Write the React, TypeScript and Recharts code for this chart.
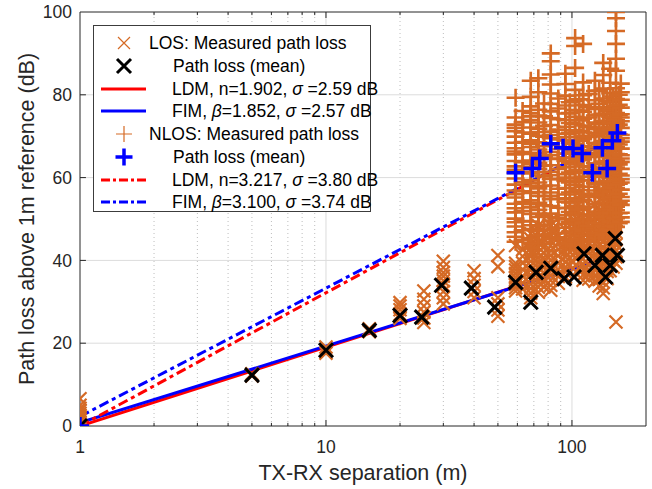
import { ComposedChart, Scatter, Line, XAxis, YAxis, ReferenceLine, Legend } from "recharts";

// Distances (m) and measured path loss (dB) per measurement position
const losDist = [1, 5, 10, 15, 20, 25, 30, 40, 50, 59, 63, 68, 73, 77, 82, 88, 94, 98, 103, 107, 111, 117, 124, 129, 134, 139, 143, 147, 151];
const losMeasured: number[][] = [
  [0.2, 0.8, 1.4, 2.0, 2.6, 3.1, 3.7, 4.3, 5.0, 6.6],
  [12.1, 12.6],
  [17.6, 18.4, 19.1],
  [22.8, 23.5],
  [26.0, 27.0, 28.1, 29.0, 29.8],
  [25.0, 26.1, 27.5, 29.0, 30.6, 32.6],
  [29.5, 31.0, 32.5, 34.0, 35.1, 36.2, 37.1, 38.3, 39.8],
  [31.0, 32.5, 34.0, 35.6, 37.5],
  [26.5, 28.0, 29.5, 31.0, 38.5, 41.2],
  [32.6, 33.4, 34.2, 35.0, 35.9, 36.8, 37.7, 38.5, 39.3, 43.6],
  [33.1, 34.6, 36.2, 37.8, 39.4, 41.0, 42.6],
  [31.0, 32.1, 33.2, 34.3, 35.4, 36.5, 37.6, 38.7, 39.8, 40.9, 42.0, 42.9, 44.0, 45.2, 46.5],
  [32.3, 33.5, 34.7, 35.9, 37.1, 38.3, 39.5, 40.7, 41.9, 43.1, 44.3, 45.5, 46.7, 48.4],
  [33.6, 35.2, 36.9, 38.5, 40.1, 41.8, 43.4, 45.1, 46.8],
  [32.8, 34.0, 35.2, 36.4, 37.6, 38.8, 40.0, 41.2, 42.4, 43.6, 44.8, 46.0, 47.2, 48.4, 49.6],
  [34.5, 36.1, 37.8, 39.4, 41.1, 42.7, 44.4, 46.0],
  [36.0, 37.2, 38.4, 39.6, 40.8, 42.0, 43.2, 44.0, 47.5],
  [37.2, 38.8, 40.5, 42.1, 43.8, 45.4],
  [40.7, 41.9, 43.1, 44.3, 45.5, 46.7, 47.9, 49.6],
  [38.0, 39.7, 41.3, 43.0, 44.6, 46.3, 47.9, 49.5],
  [35.2, 36.5, 37.8, 39.1, 40.4, 41.7, 43.0, 44.3, 45.6, 46.9, 48.2, 49.4, 50.4, 54.8],
  [35.5, 37.1, 38.8, 40.4, 42.1, 43.7, 45.4, 47.0, 48.6, 50.2],
  [35.0, 36.3, 37.6, 38.9, 40.2, 41.5, 42.8, 44.1, 45.4, 46.7, 48.0, 49.3, 50.6, 53.5],
  [33.8, 35.4, 37.1, 38.7, 40.4, 42.0, 43.7, 45.3, 47.0, 48.6, 50.3, 52.0],
  [32.0, 33.4, 34.8, 36.2, 37.6, 39.0, 40.4, 41.8, 43.2, 44.6, 46.0, 47.4, 48.8, 50.2, 51.5, 52.8, 56.5],
  [35.6, 37.3, 38.9, 40.6, 42.2, 43.9, 45.5, 47.2, 48.8, 50.5, 52.1],
  [37.5, 39.0, 40.5, 42.0, 43.5, 45.0, 46.5, 48.0, 49.5, 51.0, 52.5, 54.0],
  [38.4, 40.0, 41.7, 43.3, 45.0, 46.6, 48.3, 49.9, 51.6, 53.2],
  [25.1, 39.3, 40.8, 42.3, 43.8, 45.3, 46.8, 48.3, 49.8, 51.3, 52.8, 54.5, 57.0],
];

const nlosDist = [59, 63, 68, 73, 77, 82, 88, 94, 98, 103, 107, 111, 117, 124, 129, 134, 139, 143, 147, 151, 155, 158];
const nlosMeasured: number[][] = [
  [44.5, 45.7, 46.8, 48.2, 49.2, 50.1, 51.6, 52.6, 53.7, 55.2, 56.0, 56.9, 58.3, 59.8, 61.1, 61.9, 62.7, 64.0, 65.6, 66.3, 67.1, 68.4, 69.9, 71.2, 72.0, 72.8, 74.5, 79.3],
  [45.0, 47.3, 49.5, 51.9, 54.1, 56.7, 58.9, 61.4, 63.7, 66.2, 68.6, 70.9, 73.4, 76.1],
  [42.9, 44.2, 45.3, 47.6, 48.5, 49.4, 51.2, 52.8, 53.6, 54.5, 56.3, 57.9, 58.6, 59.4, 61.0, 62.6, 63.3, 64.1, 65.7, 67.4, 68.2, 69.0, 70.6, 72.1, 73.9, 74.8, 75.6, 77.2, 79.5, 83.4],
  [44.1, 46.0, 47.1, 48.3, 50.5, 51.3, 52.2, 53.9, 55.6, 56.5, 57.4, 58.8, 60.5, 61.3, 62.1, 63.6, 65.3, 66.0, 66.8, 68.5, 70.1, 71.0, 71.8, 73.3, 75.0, 76.4, 80.6, 84.0],
  [46.1, 48.6, 50.8, 53.3, 55.5, 58.0, 60.3, 62.9, 65.1, 67.6, 69.9, 72.5, 74.8, 77.9],
  [45.2, 46.3, 47.4, 49.6, 50.5, 51.3, 53.1, 54.8, 55.6, 56.4, 58.1, 59.7, 60.6, 61.4, 63.0, 64.6, 65.4, 66.2, 67.9, 69.5, 70.3, 71.1, 72.7, 74.4, 76.0, 77.8, 80.3, 82.5, 84.9, 88.1, 90.0],
  [45.6, 47.9, 50.3, 52.7, 54.9, 57.3, 59.6, 62.1, 64.5, 66.9, 69.2, 71.6, 74.1, 76.7, 79.1],
  [44.0, 45.2, 46.5, 48.8, 49.9, 50.9, 52.6, 54.2, 55.0, 55.9, 57.5, 59.2, 60.0, 60.8, 62.5, 64.0, 64.9, 65.8, 67.3, 69.0, 69.8, 70.6, 72.3, 73.9, 75.5, 77.4, 79.8, 82.6, 85.1],
  [44.3, 46.9, 49.2, 51.7, 54.0, 56.4, 58.8, 61.2, 63.6, 65.9, 68.4, 70.8, 73.2, 75.6, 78.2],
  [43.4, 44.6, 45.8, 47.9, 48.8, 49.7, 51.5, 53.2, 54.0, 54.9, 56.6, 58.2, 59.0, 59.9, 61.5, 63.2, 64.0, 64.8, 66.5, 68.1, 69.0, 69.8, 71.4, 73.0, 74.7, 76.3, 78.6, 81.2, 86.5, 91.8, 93.7],
  [45.1, 47.5, 49.8, 52.2, 54.6, 57.0, 59.3, 61.8, 64.2, 66.6, 68.9, 71.3, 73.8, 76.2, 78.9],
  [44.8, 45.9, 47.0, 49.1, 50.0, 51.0, 52.7, 54.5, 55.3, 56.1, 57.8, 59.4, 60.2, 61.1, 62.7, 64.4, 65.2, 66.0, 67.6, 69.3, 70.1, 70.9, 72.6, 74.2, 75.9, 77.5, 79.9, 83.0, 92.3],
  [46.0, 48.3, 50.7, 53.0, 55.5, 57.8, 60.2, 62.6, 65.0, 67.4, 69.8, 72.2, 74.5, 77.0, 80.2],
  [45.5, 46.6, 47.7, 49.9, 50.8, 51.8, 53.6, 55.3, 56.1, 56.9, 58.6, 60.2, 61.0, 61.9, 63.5, 65.1, 66.0, 66.8, 68.4, 70.0, 70.8, 71.7, 73.3, 75.0, 76.6, 78.7, 80.9, 83.4],
  [46.7, 49.0, 51.3, 53.7, 56.1, 58.4, 60.9, 63.3, 65.6, 68.0, 70.5, 72.9, 75.2, 77.8, 81.0],
  [46.2, 47.3, 48.4, 50.4, 51.4, 52.3, 54.0, 55.7, 56.5, 57.3, 59.0, 60.6, 61.4, 62.3, 63.9, 65.5, 66.3, 67.2, 68.8, 70.4, 71.2, 72.1, 73.7, 75.4, 77.0, 79.1, 81.5, 84.8, 87.7],
  [47.4, 49.8, 52.1, 54.5, 56.8, 59.2, 61.6, 64.0, 66.4, 68.8, 71.1, 73.6, 76.0, 78.5],
  [47.0, 48.2, 49.3, 51.4, 52.3, 53.2, 55.0, 56.6, 57.5, 58.3, 60.0, 61.6, 62.4, 63.2, 64.9, 66.5, 67.3, 68.1, 69.8, 71.4, 72.2, 73.1, 74.7, 76.3, 78.2, 80.4, 82.9, 86.3],
  [48.3, 50.6, 53.0, 55.3, 57.7, 60.1, 62.4, 64.8, 67.2, 69.6, 72.0, 74.3, 76.8, 79.6],
  [48.1, 49.1, 50.2, 52.1, 53.0, 54.0, 55.8, 57.5, 58.3, 59.1, 60.8, 62.4, 63.2, 64.1, 65.7, 67.3, 68.1, 69.0, 70.6, 72.3, 73.1, 73.9, 75.6, 77.2, 79.0, 81.6, 85.8, 88.7, 92.3, 95.4, 98.5, 100.0],
  [49.0, 51.4, 53.8, 56.1, 58.5, 60.9, 63.2, 65.6, 68.0, 70.4, 72.8, 75.1, 77.6, 80.0],
  [49.3, 50.4, 51.5, 53.4, 54.4, 55.3, 57.1, 58.8, 59.6, 60.5, 62.1, 63.8, 64.6, 65.4, 67.0, 68.7, 69.5, 70.3, 72.0, 73.6, 74.5, 75.3, 76.9, 78.8, 80.6, 82.7],
];

// Mean path loss at each position
const losMeanDist = [1, 5, 10, 15, 20, 24.5, 29.5, 39, 48.5, 59, 68, 71.5, 82, 93, 102, 112, 124, 133, 137, 143, 150, 153];
const losMeanPL = [0, 12.3, 18.3, 23.1, 26.7, 26.3, 34.0, 33.3, 28.7, 34.7, 29.9, 37.1, 38.1, 35.6, 36.0, 41.6, 38.8, 41.2, 36.0, 38.8, 45.3, 41.2];
const nlosMeanDist = [1, 59, 69, 74, 82, 92, 101, 110, 121, 133, 139, 146, 153];
const nlosMeanPL = [0, 61.2, 62.2, 64.6, 68.2, 67.2, 67.0, 65.8, 61.2, 67.2, 62.2, 68.9, 70.8];

// Fitted model parameters
const LOS_LDM_N = 1.902;
const LOS_FIM_BETA = 1.852;
const LOS_FIM_ALPHA = 0.8;
const NLOS_LDM_N = 3.217;
const NLOS_FIM_BETA = 3.1;
const NLOS_FIM_ALPHA = 2.3;
const modelDist = [1, 158];

const X_TICKS = [1, 10, 100];
const X_MAJOR_GRID = [10, 100];
const X_MINOR_GRID = [2, 3, 4, 5, 6, 7, 8, 9, 20, 30, 40, 50, 60, 70, 80, 90];
const Y_TICKS = [0, 20, 40, 60, 80, 100];
const Y_GRID = [20, 40, 60, 80];

const ORANGE = "#D56A25";
const AXIS = "#262626";
const FONT = "'Liberation Sans', Arial, Helvetica, sans-serif";

const toPoints = (dist: number[], vals: number[][]) =>
  dist.flatMap((d, i) => vals[i].map((v) => ({ x: d, y: v })));
const zipPoints = (dist: number[], vals: number[]) => dist.map((d, i) => ({ x: d, y: vals[i] }));

const losPoints = toPoints(losDist, losMeasured);
const nlosPoints = toPoints(nlosDist, nlosMeasured);
const losMean = zipPoints(losMeanDist, losMeanPL);
const nlosMean = zipPoints(nlosMeanDist, nlosMeanPL);
const model = (a: number, n: number) => modelDist.map((d) => ({ x: d, y: a + 10 * n * Math.log10(d) }));

const xShape = (half: number, color: string, width: number) => (p: any) => {
  const { cx, cy } = p;
  if (cx == null || cy == null) return <g />;
  return (
    <path
      d={`M${cx - half},${cy - half}L${cx + half},${cy + half}M${cx - half},${cy + half}L${cx + half},${cy - half}`}
      stroke={color}
      strokeWidth={width}
      fill="none"
    />
  );
};

const plusShape = (half: number, color: string, width: number) => (p: any) => {
  const { cx, cy } = p;
  if (cx == null || cy == null) return <g />;
  return (
    <path
      d={`M${cx - half},${cy}L${cx + half},${cy}M${cx},${cy - half}L${cx},${cy + half}`}
      stroke={color}
      strokeWidth={width}
      fill="none"
    />
  );
};

const DASH_DOT = "10 4 4 4";

type Row = { symbol: JSX.Element; text: JSX.Element; left: number };

const sig = <span style={{ fontStyle: "italic" }}>σ</span>;
const beta = <span style={{ fontStyle: "italic" }}>β</span>;

const lineSym = (color: string, dash?: string) => (
  <line x1={7} y1={11} x2={52} y2={11} stroke={color} strokeWidth={3} strokeDasharray={dash} />
);

const legendRows: Row[] = [
  {
    symbol: <path d="M24,5L36,17M24,17L36,5" stroke={ORANGE} strokeWidth={1.2} />,
    text: <>LOS: Measured path loss</>,
    left: 55,
  },
  {
    symbol: <path d="M23,4L37,18M23,18L37,4" stroke="#000" strokeWidth={3} />,
    text: <>Path loss (mean)</>,
    left: 79,
  },
  { symbol: lineSym("#FF0000"), text: <>LDM, n=1.902, {sig} =2.59 dB</>, left: 78 },
  { symbol: lineSym("#0000FF"), text: <>FIM, {beta}=1.852, {sig} =2.57 dB</>, left: 78 },
  {
    symbol: <path d="M22,11L38,11M30,3L30,19" stroke={ORANGE} strokeWidth={1.2} />,
    text: <>NLOS: Measured path loss</>,
    left: 55,
  },
  {
    symbol: <path d="M21.5,11L38.5,11M30,2.5L30,19.5" stroke="#0000FF" strokeWidth={3.5} />,
    text: <>Path loss (mean)</>,
    left: 79,
  },
  { symbol: lineSym("#FF0000", "9 3 3 3"), text: <>LDM, n=3.217, {sig} =3.80 dB</>, left: 78 },
  { symbol: lineSym("#0000FF", "9 3 3 3"), text: <>FIM, {beta}=3.100, {sig} =3.74 dB</>, left: 78 },
];
const ROW_CENTERS = [17, 40, 63, 85, 108, 131, 154, 176];

function LegendBox() {
  return (
    <div
      style={{
        position: "relative",
        width: 278,
        height: 187,
        boxSizing: "border-box",
        border: "1px solid #3c3c3c",
        background: "#fff",
        fontFamily: FONT,
        fontSize: 17.5,
        color: "#000",
      }}
    >
      {legendRows.map((r, i) => (
        <div key={i} style={{ position: "absolute", top: ROW_CENTERS[i] - 11, left: 0, height: 22, width: 276 }}>
          <svg width={60} height={22} style={{ position: "absolute", left: 0, top: 0 }}>
            {r.symbol}
          </svg>
          <div style={{ position: "absolute", left: r.left, top: 0, lineHeight: "22px", whiteSpace: "nowrap" }}>
            {r.text}
          </div>
        </div>
      ))}
    </div>
  );
}

// inward tick marks on all four sides of the box
const X_TICK_LEN = 1.45;
const X_MINOR_LEN = 0.75;
const Y_TICK_SPAN = 1.057;

export default function App() {
  return (
    <div style={{ position: "absolute", left: 0, top: 0, width: 652, height: 489, background: "#fff" }}>
      <ComposedChart
        width={652}
        height={489}
        margin={{ top: 12, right: 6, bottom: 0, left: 0 }}
        style={{ fontFamily: FONT }}
      >
        <XAxis
          type="number"
          dataKey="x"
          scale="log"
          domain={[1, 200]}
          ticks={X_TICKS}
          allowDataOverflow
          height={63}
          tickLine={false}
          tickSize={0}
          tickMargin={15}
          axisLine={{ stroke: AXIS }}
          tick={{ fill: AXIS, fontSize: 17.5 }}
          label={{ value: "TX-RX separation (m)", position: "insideBottom", offset: 9, fill: AXIS, fontSize: 21.5 }}
        />
        <YAxis
          type="number"
          dataKey="y"
          domain={[0, 100]}
          ticks={Y_TICKS}
          allowDataOverflow
          width={80}
          tickLine={false}
          tickSize={0}
          tickMargin={8}
          axisLine={{ stroke: AXIS }}
          tick={{ fill: AXIS, fontSize: 17.5 }}
          label={{
            value: "Path loss above 1m reference (dB)",
            angle: -90,
            position: "insideLeft",
            offset: 26,
            fill: AXIS,
            fontSize: 21.5,
            style: { textAnchor: "middle" },
          }}
        />
        {X_MINOR_GRID.map((v) => (
          <ReferenceLine key={`mx${v}`} x={v} stroke="#bdbdbd" strokeDasharray="1 3" />
        ))}
        {X_MAJOR_GRID.map((v) => (
          <ReferenceLine key={`gx${v}`} x={v} stroke="#dcdcdc" />
        ))}
        {Y_GRID.map((v) => (
          <ReferenceLine key={`gy${v}`} y={v} stroke="#dcdcdc" />
        ))}
        <ReferenceLine y={100} stroke={AXIS} />
        <ReferenceLine x={200} stroke={AXIS} />
        {X_MAJOR_GRID.map((v) => (
          <ReferenceLine key={`tb${v}`} segment={[{ x: v, y: 0 }, { x: v, y: X_TICK_LEN }]} stroke={AXIS} />
        ))}
        {X_MAJOR_GRID.map((v) => (
          <ReferenceLine key={`tt${v}`} segment={[{ x: v, y: 100 }, { x: v, y: 100 - X_TICK_LEN }]} stroke={AXIS} />
        ))}
        {X_MINOR_GRID.map((v) => (
          <ReferenceLine key={`mb${v}`} segment={[{ x: v, y: 0 }, { x: v, y: X_MINOR_LEN }]} stroke={AXIS} />
        ))}
        {X_MINOR_GRID.map((v) => (
          <ReferenceLine key={`mt${v}`} segment={[{ x: v, y: 100 }, { x: v, y: 100 - X_MINOR_LEN }]} stroke={AXIS} />
        ))}
        {Y_GRID.map((v) => (
          <ReferenceLine key={`tl${v}`} segment={[{ x: 1, y: v }, { x: Y_TICK_SPAN, y: v }]} stroke={AXIS} />
        ))}
        {Y_GRID.map((v) => (
          <ReferenceLine key={`tr${v}`} segment={[{ x: 200 / Y_TICK_SPAN, y: v }, { x: 200, y: v }]} stroke={AXIS} />
        ))}

        <Scatter data={losPoints} shape={xShape(6.5, ORANGE, 2.2)} isAnimationActive={false} legendType="none" />
        <Scatter data={nlosPoints} shape={plusShape(9, ORANGE, 2.6)} isAnimationActive={false} legendType="none" />

        <Line data={model(0, LOS_LDM_N)} dataKey="y" type="linear" stroke="#FF0000" strokeWidth={3} dot={false} isAnimationActive={false} legendType="none" />
        <Line data={model(LOS_FIM_ALPHA, LOS_FIM_BETA)} dataKey="y" type="linear" stroke="#0000FF" strokeWidth={3} dot={false} isAnimationActive={false} legendType="none" />
        <Line data={model(0, NLOS_LDM_N)} dataKey="y" type="linear" stroke="#FF0000" strokeWidth={3} strokeDasharray={DASH_DOT} dot={false} isAnimationActive={false} legendType="none" />
        <Line data={model(NLOS_FIM_ALPHA, NLOS_FIM_BETA)} dataKey="y" type="linear" stroke="#0000FF" strokeWidth={3} strokeDasharray={DASH_DOT} dot={false} isAnimationActive={false} legendType="none" />

        <Scatter data={losMean} shape={xShape(7, "#000", 3)} isAnimationActive={false} legendType="none" />
        <Scatter data={nlosMean} shape={plusShape(9, "#0000FF", 3.5)} isAnimationActive={false} legendType="none" />

        <Legend
          layout="horizontal"
          verticalAlign="middle"
          align="center"
          wrapperStyle={{ left: 93, top: 25, width: 278, height: 187 }}
          content={() => <LegendBox />}
        />
      </ComposedChart>
    </div>
  );
}
